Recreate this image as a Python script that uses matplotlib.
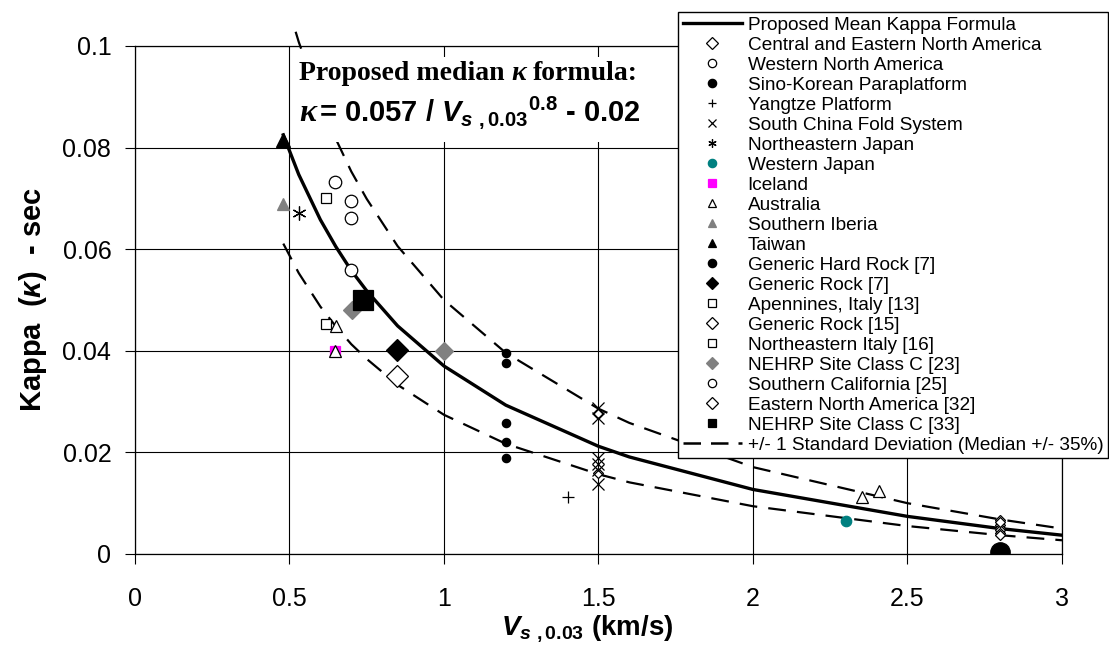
#======================================================================
#   IMPORTS:
#======================================================================

import matplotlib
matplotlib.use('Agg')
from matplotlib import pyplot as plt
from matplotlib.lines import Line2D
from matplotlib.patches import Rectangle
from matplotlib.offsetbox import TextArea, HPacker, VPacker, AnchoredOffsetbox


#======================================================================
#   DATA:
#======================================================================

x_ticks = [0, 0.5, 1, 1.5, 2, 2.5, 3]
x_tick_labels = ['0', '0.5', '1', '1.5', '2', '2.5', '3']
y_ticks = [0, 0.02, 0.04, 0.06, 0.08, 0.1]
y_tick_labels = ['0', '0.02', '0.04', '0.06', '0.08', '0.1']

# proposed mean curve and the +/- one sigma curves
vs_mean = [0.48, 0.53, 0.6, 0.65, 0.7, 0.75, 0.85, 1.0, 1.2, 1.5, 1.6, 2.0, 2.5, 2.8, 3.0]
kappa_mean = [0.0825, 0.0747, 0.0658, 0.0605, 0.0558, 0.0518, 0.0449, 0.0370,
              0.0293, 0.0212, 0.0191, 0.0127, 0.0074, 0.0050, 0.0037]
vs_upper = [0.52, 0.53, 0.6, 0.65, 0.7, 0.75, 0.85, 1.0, 1.2, 1.5, 1.6, 2.0, 2.5, 2.8, 3.0]
kappa_upper = [0.1028, 0.1008, 0.0888, 0.0817, 0.0753, 0.0699, 0.0606, 0.0500,
               0.0396, 0.0286, 0.0258, 0.0171, 0.0100, 0.0068, 0.0050]
vs_lower = [0.48, 0.53, 0.6, 0.65, 0.7, 0.75, 0.85, 1.0, 1.2, 1.5, 1.6, 2.0, 2.5, 2.8, 3.0]
kappa_lower = [0.0611, 0.0553, 0.0487, 0.0448, 0.0413, 0.0384, 0.0333, 0.0274,
               0.0217, 0.0157, 0.0141, 0.0094, 0.0055, 0.0037, 0.0027]

# observations, one pair of lists per region / reference
cena_vs = [1.5, 1.5, 2.8, 2.8, 2.8, 2.8, 2.8, 2.8]
cena_k = [0.0275, 0.0160, 0.0066, 0.0058, 0.0052, 0.0047, 0.0042, 0.0038]
wna_vs = [0.648, 0.70, 0.70]
wna_k = [0.0733, 0.0694, 0.0662]
sino_vs = [1.2, 1.2, 1.2, 1.2, 1.2]
sino_k = [0.0396, 0.0375, 0.0257, 0.0221, 0.0188]
yangtze_vs = [1.40]
yangtze_k = [0.0113]
scfs_vs = [1.5, 1.5, 1.5, 1.5, 1.5, 1.5]
scfs_k = [0.0287, 0.0268, 0.0189, 0.0177, 0.0165, 0.0138]
nejapan_vs = [0.532]
nejapan_k = [0.0671]
wjapan_vs = [2.30]
wjapan_k = [0.0064]
iceland_vs = [0.648]
iceland_k = [0.0400]
australia_vs = [0.650, 0.648, 2.352, 2.408]
australia_k = [0.0449, 0.0400, 0.0113, 0.0123]
iberia_vs = [0.478]
iberia_k = [0.0689]
taiwan_vs = [0.478]
taiwan_k = [0.0815]
hardrock7_vs = [2.80]
hardrock7_k = [0.0003]
rock7_vs = [0.847]
rock7_k = [0.0402]
apennines_vs = [0.618]
apennines_k = [0.0701]
rock15_vs = [0.849]
rock15_k = [0.0351]
neitaly_vs = [0.618]
neitaly_k = [0.0453]
nehrp23_vs = [0.701, 1.0]
nehrp23_k = [0.0480, 0.0400]
socal_vs = [0.70]
socal_k = [0.0559]
ena32_vs = [2.8]
ena32_k = [0.0062]
nehrp33_vs = [0.739]
nehrp33_k = [0.0500]


#======================================================================
#   MAIN:
#======================================================================

if (__name__ == '__main__'):

    plt.rcParams['font.family'] = ['Liberation Sans', 'DejaVu Sans']
    plt.rcParams['mathtext.fontset'] = 'custom'
    plt.rcParams['mathtext.rm'] = 'Liberation Sans:bold'
    plt.rcParams['mathtext.bf'] = 'Liberation Sans:bold'
    plt.rcParams['mathtext.it'] = 'Liberation Sans:bold:italic'

    fig = plt.figure(figsize=(11.09, 6.57), dpi=100)
    ax = fig.add_axes([0.1217, 0.1568, 0.9576 - 0.1217, 0.930 - 0.1568])

    # curves
    ax.plot(vs_mean, kappa_mean, color='black', lw=2.4, zorder=3)
    ax.plot(vs_upper, kappa_upper, color='black', lw=1.6, dashes=(8, 5), zorder=3, clip_on=False)
    ax.plot(vs_lower, kappa_lower, color='black', lw=1.6, dashes=(8, 5), zorder=3)

    W = 'white'
    # (x, y, marker, size, face, edge)
    series = [
        (cena_vs, cena_k, 'D', 5.5, W, 'black'),
        (wna_vs, wna_k, 'o', 9, W, 'black'),
        (sino_vs, sino_k, 'o', 6, 'black', 'black'),
        (yangtze_vs, yangtze_k, '+', 9, 'black', 'black'),
        (scfs_vs, scfs_k, 'x', 9, 'black', 'black'),
        (nejapan_vs, nejapan_k, (6, 2, 0), 10, 'black', 'black'),
        (wjapan_vs, wjapan_k, 'o', 7.5, '#008080', '#008080'),
        (iceland_vs, iceland_k, 's', 7.5, '#ff00ff', '#ff00ff'),
        (australia_vs, australia_k, '^', 8, W, 'black'),
        (iberia_vs, iberia_k, '^', 9, '#808080', '#808080'),
        (taiwan_vs, taiwan_k, '^', 10, 'black', 'black'),
        (hardrock7_vs, hardrock7_k, 'o', 14, 'black', 'black'),
        (rock7_vs, rock7_k, 'D', 11, 'black', 'black'),
        (apennines_vs, apennines_k, 's', 7.5, W, 'black'),
        (rock15_vs, rock15_k, 'D', 11, W, 'black'),
        (neitaly_vs, neitaly_k, 's', 7.5, W, 'black'),
        (nehrp23_vs, nehrp23_k, 'D', 9, '#808080', '#808080'),
        (socal_vs, socal_k, 'o', 9, W, 'black'),
        (ena32_vs, ena32_k, 'D', 5.5, W, 'black'),
        (nehrp33_vs, nehrp33_k, 's', 14, 'black', 'black'),
    ]
    for xs, ys, mk, ms, fc, ec in series:
        ax.plot(xs, ys, ls='none', marker=mk, ms=ms, mfc=fc, mec=ec, mew=0.9, zorder=4)

    # axes
    ax.set_xlim(0, 3)
    ax.set_ylim(0, 0.1)
    ax.set_xticks(x_ticks)
    ax.set_xticklabels(x_tick_labels)
    ax.set_yticks(y_ticks)
    ax.set_yticklabels(y_tick_labels)
    ax.tick_params(direction='out', length=7, width=0.8, labelsize=18)
    ax.tick_params(axis='x', pad=17)
    ax.tick_params(axis='y', pad=10)
    ax.grid(True, color='black', lw=0.8)
    ax.set_axisbelow(True)
    for sp in ax.spines.values():
        sp.set_linewidth(0.9)

    ax.set_xlabel(r'$V_{s\ ,0.03}$ (km/s)', fontsize=20, fontweight='bold', labelpad=1)
    ax.xaxis.label.set_x(0.4876)
    ax.set_ylabel(r'Kappa  ($\kappa$)  - sec', fontsize=21, fontweight='bold', labelpad=10)

    # formula annotation on a white text box
    ax.add_patch(Rectangle((0.523, 0.0811), 1.2, 0.0167, facecolor='white', edgecolor='none',
                           zorder=5))
    serif_b = dict(family='Liberation Serif', weight='bold', size=20)
    serif_bi = dict(family='Liberation Serif', weight='bold', style='italic', size=20)
    line1 = HPacker(children=[TextArea('Proposed median', textprops=serif_b),
                              TextArea('\u03ba', textprops=serif_bi),
                              TextArea('formula:', textprops=serif_b)],
                    align='baseline', pad=0, sep=5)
    line2 = HPacker(children=[TextArea('\u03ba', textprops=dict(family='Liberation Serif', weight='bold',
                                                                 style='italic', size=23)),
                              TextArea(r'= 0.057 / $V_{s\ ,0.03}{}^{0.8}$ - 0.02',
                                       textprops=dict(weight='bold', size=21))],
                    align='baseline', pad=0, sep=2)
    box = VPacker(children=[line1, line2], align='left', pad=0, sep=6)
    anch = AnchoredOffsetbox(loc='upper left', child=box, pad=0, borderpad=0, frameon=False,
                             bbox_to_anchor=(0.531, 0.0970), bbox_transform=ax.transData)
    anch.set_zorder(6)
    ax.add_artist(anch)

    # legend
    h = [Line2D([], [], color='black', lw=2.4)]
    labels = ['Proposed Mean Kappa Formula', 'Central and Eastern North America',
              'Western North America', 'Sino-Korean Paraplatform', 'Yangtze Platform',
              'South China Fold System', 'Northeastern Japan', 'Western Japan', 'Iceland',
              'Australia', 'Southern Iberia', 'Taiwan', 'Generic Hard Rock [7]',
              'Generic Rock [7]', 'Apennines, Italy [13]', 'Generic Rock [15]',
              'Northeastern Italy [16]', 'NEHRP Site Class C [23]', 'Southern California [25]',
              'Eastern North America [32]', 'NEHRP Site Class C [33]',
              '+/- 1 Standard Deviation (Median +/- 35%)']
    for xs, ys, mk, ms, fc, ec in series:
        h.append(Line2D([], [], ls='none', marker=mk, ms=6, mfc=fc, mec=ec, mew=0.9))
    h.append(Line2D([], [], color='black', lw=1.8, dashes=(7, 4)))
    leg = ax.legend(h, labels, loc='upper right', bbox_to_anchor=(0.999, 0.982),
                    bbox_transform=fig.transFigure, fontsize=13.7, handlelength=3.1,
                    handletextpad=0.3, labelspacing=0.14, borderpad=0.25, borderaxespad=0,
                    fancybox=False, framealpha=1, edgecolor='black')
    leg.get_frame().set_linewidth(1.0)
    leg.set_zorder(10)

    plt.savefig('out.png', dpi=100)
